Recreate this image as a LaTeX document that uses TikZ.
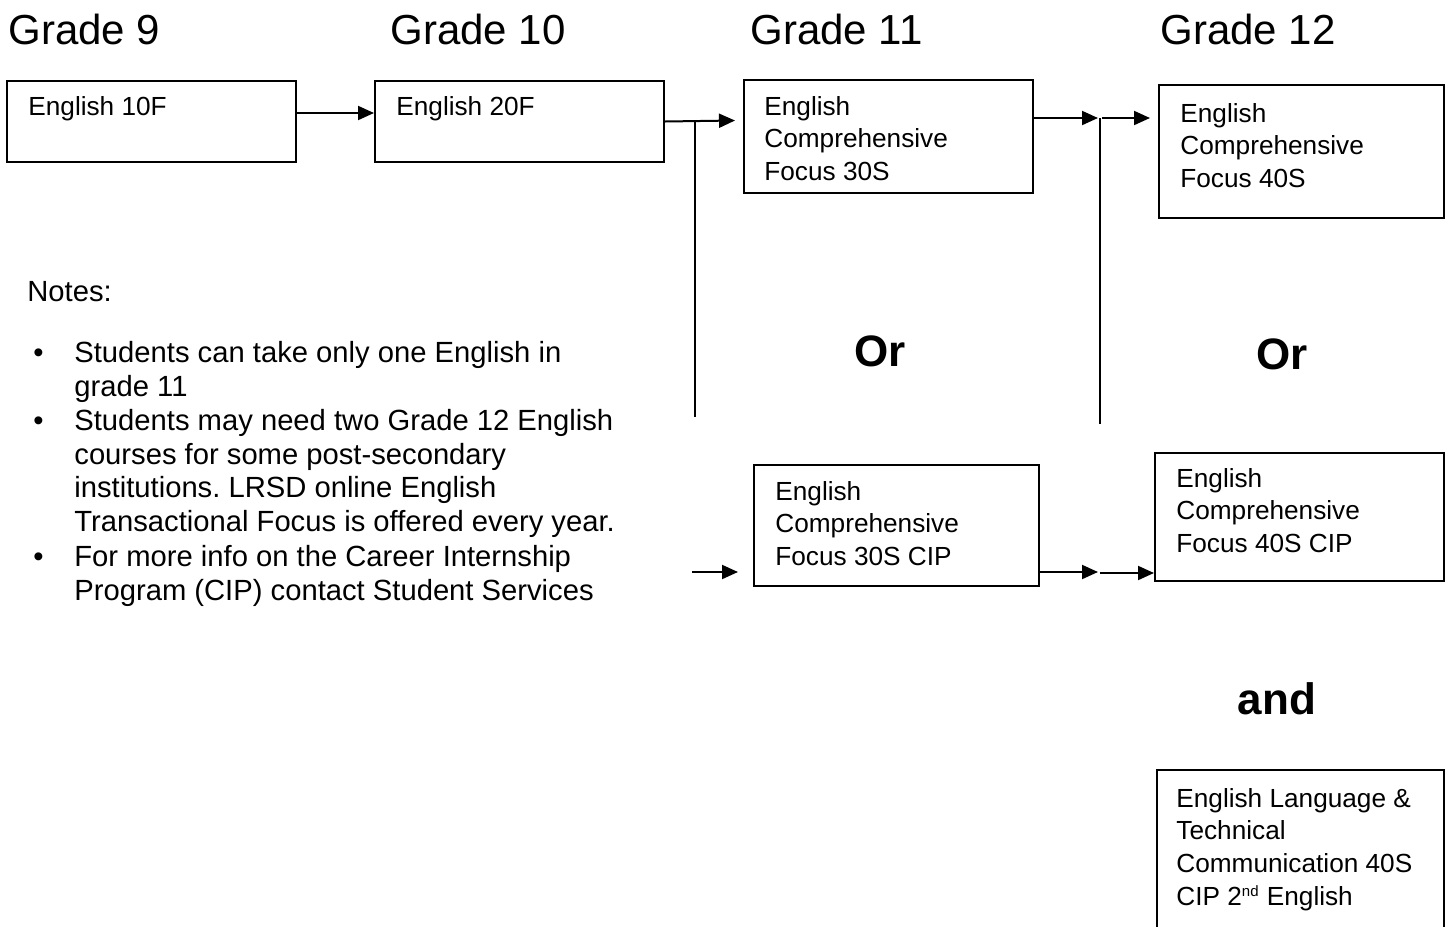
\documentclass[tikz,border=0pt]{standalone}
\usepackage{fontspec}
\setmainfont{Liberation Sans}
\usetikzlibrary{arrows.meta}
\frenchspacing

\begin{document}
\begin{tikzpicture}[%
        x = 0.5pt,
        y = -0.5pt,
        course/.style = {draw, line width = 1pt, anchor = north west, inner sep = 0pt},
        coursetext/.style = {anchor = north west, align = left, inner sep = 0pt,
            font = \fontsize{13.1}{16.3}\selectfont},
        grade/.style = {anchor = base west, inner sep = 0pt,
            font = \fontsize{21}{25}\selectfont},
        choice/.style = {anchor = base, inner sep = 0pt,
            font = \fontsize{22}{26}\selectfont\bfseries},
        note/.style = {anchor = north west, align = left, inner sep = 0pt,
            font = \fontsize{14.6}{16.8}\selectfont},
        link/.style = {line width = 1pt},
        arr/.style = {link, -{Triangle[length = 8pt, width = 7pt]}}
    ]

        % Fix the page to the size of the reference.
        \useasboundingbox (0, 0) rectangle (1448, 927);

        % Grade headings along the top.
        \node[grade] (g9)  at (8, 44)    {Grade 9};
        \node[grade] (g10) at (390, 44)  {Grade 10};
        \node[grade] (g11) at (750, 44)  {Grade 11};
        \node[grade] (g12) at (1160, 44) {Grade 12};

        % The course boxes, sized in pt (one pixel is half a point).
        \node[course, minimum width = 144.5pt, minimum height = 40.5pt] (b1) at (6, 80) {};
        \node[course, minimum width = 144.5pt, minimum height = 40.5pt] (b2) at (374, 80) {};
        \node[course, minimum width = 144.5pt, minimum height = 56.5pt] (b3) at (743, 79) {};
        \node[course, minimum width = 142.5pt, minimum height = 66.5pt] (b4) at (1158, 84) {};
        \node[course, minimum width = 142.5pt, minimum height = 60.5pt] (b5) at (753, 464) {};
        \node[course, minimum width = 144.5pt, minimum height = 64pt]   (b6) at (1154, 452) {};
        \node[course, minimum width = 143.5pt, minimum height = 90pt]   (b7) at (1156, 769) {};

        % Text inside the boxes.
        \node[coursetext, anchor = base west] (t1) at (28, 115)  {English 10F};
        \node[coursetext, anchor = base west] (t2) at (396, 115) {English 20F};
        \node[coursetext] (t3) at (764, 96)   {English\\Comprehensive\\Focus 30S};
        \node[coursetext] (t4) at (1180, 103) {English\\Comprehensive\\Focus 40S};
        \node[coursetext] (t5) at (775, 481)  {English\\Comprehensive\\Focus 30S CIP};
        \node[coursetext] (t6) at (1176, 468) {English\\Comprehensive\\Focus 40S CIP};
        \node[coursetext] (t7) at (1176, 788) {English Language \&\\Technical\\%
            Communication 40S\\CIP 2\textsuperscript{\fontsize{7.5}{8}\selectfont nd} English};

        % The choice words between the boxes.
        \node[choice] (or1) at (880, 366)  {Or};
        \node[choice] (or2) at (1282, 369) {Or};
        \node[choice] (and) at (1277, 714) {and};

        % Notes with their bullets.
        \node[note, anchor = base west] (notes) at (27, 301) {Notes:};
        \foreach \y in {362, 430, 566}{
            \node[note, anchor = base west] (dot\y) at (33, \y) {•};
        }
        \node[note] (n1) at (74, 341) {Students can take only one English in\\grade 11};
        \node[note] (n2) at (74, 409) {Students may need two Grade 12 English\\%
            courses for some post-secondary\\institutions. LRSD online English\\%
            Transactional Focus is offered every year.};
        \node[note] (n3) at (74, 545) {For more info on the Career Internship\\%
            Program (CIP) contact Student Services};

        % Free ends of the connectors.
        \coordinate (fork1top) at (695, 120.5);
        \coordinate (fork1bot) at (695, 417);
        \coordinate (g11in)    at (735, 120.5);
        \coordinate (cipin)    at (692, 572);
        \coordinate (cipend)   at (738, 572);
        \coordinate (g12a)     at (1098, 118);
        \coordinate (fork2top) at (1100, 118);
        \coordinate (fork2bot) at (1100, 424);
        \coordinate (g12b)     at (1102, 118);
        \coordinate (g12bend)  at (1150, 118);
        \coordinate (cipmid)   at (1098, 572);
        \coordinate (cipmid2)  at (1100, 573);

        % Grade 9 to grade 10 and on to grade 11.
        \draw[arr] (b1.east |- 0, 113) to (b2.west |- 0, 113);
        \draw[arr] (b2.east) to (g11in);
        \draw[link] (fork1top) to (fork1bot);
        \draw[arr] (cipin) to (cipend);

        % Grade 11 on to grade 12.
        \draw[arr] (b3.east |- g12a) to (g12a);
        \draw[link] (fork2top) to (fork2bot);
        \draw[arr] (g12b) to (g12bend);
        \draw[arr] (b5.east |- cipmid) to (cipmid);
        \draw[arr] (cipmid2) to (b6.west |- cipmid2);
    \end{tikzpicture}
\end{document}
